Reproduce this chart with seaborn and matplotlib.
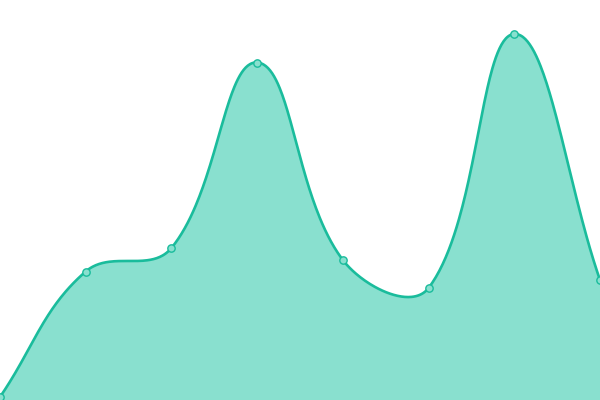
import numpy as np
import pandas as pd
import matplotlib
matplotlib.use("Agg")
import matplotlib.pyplot as plt
import seaborn as sns

# data
categories = [0, 1, 2, 3, 4, 5, 6, 7]
values = [3, 128.5, 152, 337.5, 140, 112, 366, 120]

LINE = "#1abc9c"
FILL = "#89e0cf"
W, H = 600, 400
TENSION = 0.4

sns.set_theme(style="white")

def spline(xs, ys, t=TENSION, n=80):
    # tension-based bezier smoothing computed in pixel space
    sxf = W / (len(xs) - 1)
    P = np.column_stack([np.asarray(xs, float) * sxf, np.asarray(ys, float)])
    N = len(P)
    cprev, cnext = [], []
    for i in range(N):
        prev = P[max(i - 1, 0)]; cur = P[i]; nxt = P[min(i + 1, N - 1)]
        d01 = np.linalg.norm(cur - prev); d12 = np.linalg.norm(nxt - cur)
        tot = d01 + d12
        s01 = d01 / tot if tot else 0; s12 = d12 / tot if tot else 0
        a = cur - t * s01 * (nxt - prev)
        b = cur + t * s12 * (nxt - prev)
        a = np.clip(a, [0, 0], [W, H]); b = np.clip(b, [0, 0], [W, H])
        cprev.append(a); cnext.append(b)
    out = [P[0:1]]
    tt = np.linspace(0, 1, n)[1:, None]
    for i in range(N - 1):
        p1, c1, c2, p2 = P[i], cnext[i], cprev[i + 1], P[i + 1]
        out.append((1-tt)**3*p1 + 3*(1-tt)**2*tt*c1 + 3*(1-tt)*tt**2*c2 + tt**3*p2)
    A = np.vstack(out)
    return A[:, 0] / sxf, A[:, 1]

df = pd.DataFrame({"x": categories, "y": values})
sx, sy = spline(df["x"], df["y"])
smooth = pd.DataFrame({"x": sx, "y": sy})

fig = plt.figure(figsize=(6, 4), dpi=100)
ax = fig.add_axes([0, 0, 1, 1])
ax.fill_between(smooth["x"], smooth["y"], 0, color=FILL, linewidth=0, zorder=1)
sns.lineplot(data=smooth, x="x", y="y", ax=ax, color=LINE, linewidth=1.9,
             sort=False, estimator=None, zorder=2)
sns.scatterplot(data=df, x="x", y="y", ax=ax, color=FILL, edgecolor=LINE,
                s=28, linewidth=1.0, zorder=3, clip_on=False)
ax.set_xlim(0, 7)
ax.set_ylim(0, 400)
ax.set_axis_off()
fig.savefig("out.png", dpi=100)
